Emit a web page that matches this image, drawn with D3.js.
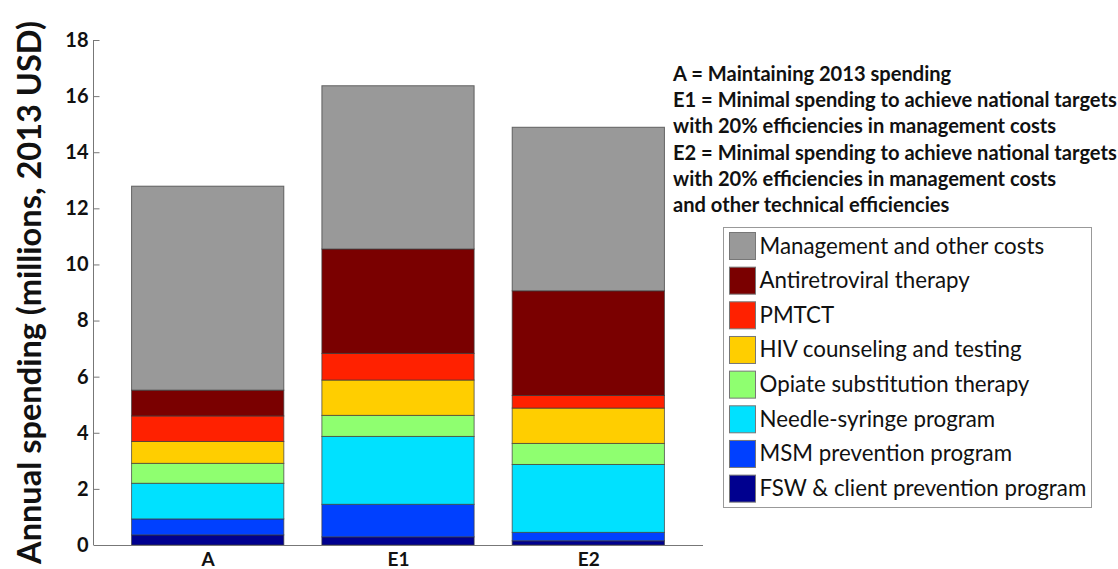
<!DOCTYPE html>
<html>
<head>
<meta charset="utf-8">
<script src="https://cdn.jsdelivr.net/npm/d3@7"></script>
<style>
  html, body { margin: 0; padding: 0; background: #fff; }
  svg { display: block; }
  text { font-family: Lato, "Open Sans", sans-serif; fill: #111; }
</style>
</head>
<body>
<svg id="chart" width="1118" height="569"></svg>
<script>
// ---- data (stacked bottom to top) ----
const categories = ["A", "E1", "E2"];
const seriesNames = [
  "FSW & client prevention program",
  "MSM prevention program",
  "Needle-syringe program",
  "Opiate substitution therapy",
  "HIV counseling and testing",
  "PMTCT",
  "Antiretroviral therapy",
  "Management and other costs"
];
const seriesColors = ["#00008f", "#0040ff", "#00e1ff", "#8fff70", "#ffce00", "#ff2100", "#7a0000", "#999999"];
const fsw   = [0.36, 0.29, 0.15];
const msm   = [0.57, 1.16, 0.30];
const nsp   = [1.27, 2.42, 2.42];
const ost   = [0.71, 0.75, 0.75];
const hct   = [0.78, 1.26, 1.26];
const pmtct = [0.91, 0.95, 0.45];
const art   = [0.92, 3.72, 3.73];
const mgmt  = [7.27, 5.82, 5.83];
const yTicks = [0, 2, 4, 6, 8, 10, 12, 14, 16, 18];
const yTitle = "Annual spending (millions, 2013 USD)";
const noteLines = [
  "A = Maintaining 2013 spending",
  "E1 = Minimal spending to achieve national targets",
  "with 20% efficiencies in management costs",
  "E2 = Minimal spending to achieve national targets",
  "with 20% efficiencies in management costs",
  "and other technical efficiencies"
];

const seriesValues = [fsw, msm, nsp, ost, hct, pmtct, art, mgmt];
const rows = categories.map((c, i) => {
  const r = { cat: c };
  seriesNames.forEach((s, j) => r[s] = seriesValues[j][i]);
  return r;
});
const stacked = d3.stack().keys(seriesNames)(rows);

const svg = d3.select("#chart");

// ---- scales ----
const x = d3.scaleLinear().domain([0.4, 3.6]).range([93.5, 702.5]);
const y = d3.scaleLinear().domain([0, 18]).range([545, 40]);
const barW = x(1.8) - x(1.0);

// ---- bars ----
const g = svg.append("g");
g.selectAll("g.series").data(stacked).join("g")
  .attr("class", "series")
  .attr("fill", (d, i) => seriesColors[i])
  .selectAll("rect").data(d => d).join("rect")
  .attr("x", (d, i) => x(i + 1) - barW / 2)
  .attr("width", barW)
  .attr("y", d => y(d[1]))
  .attr("height", d => y(d[0]) - y(d[1]))
  .attr("stroke", "#3a3a3a")
  .attr("stroke-opacity", 0.7)
  .attr("stroke-width", 1);

// ---- axes ----
const yAxis = d3.axisLeft(y).tickValues(yTicks).tickSize(-6).tickPadding(10).tickFormat(d3.format("d"));
const ya = svg.append("g").attr("transform", "translate(93.5,0)").call(yAxis);
ya.select(".domain").attr("stroke", "#777").attr("d", `M0,${y(18)}V${y(0)}`);
ya.selectAll(".tick line").attr("stroke", "#777");
ya.selectAll(".tick text").attr("font-size", 20).attr("font-weight", "bold")
  .attr("font-family", "Lato, 'Open Sans', sans-serif").attr("fill", "#111").attr("x", -5);

const xAxis = d3.axisBottom(x).tickValues([1, 2, 3]).tickSize(0).tickPadding(8)
  .tickFormat(d => categories[d - 1]);
const xa = svg.append("g").attr("transform", `translate(0,${y(0)})`).call(xAxis);
xa.select(".domain").attr("stroke", "#777");
xa.selectAll(".tick text").attr("font-size", 19).attr("font-weight", "bold")
  .attr("font-family", "Lato, 'Open Sans', sans-serif").attr("fill", "#111");

// ---- y title (fit to length) ----
const yt = svg.append("text")
  .attr("transform", `translate(41,${(y(0) + y(18)) / 2}) rotate(-90)`)
  .attr("text-anchor", "middle")
  .attr("font-weight", "bold")
  .attr("font-size", 30)
  .text(yTitle);
{
  const L = yt.node().getComputedTextLength();
  yt.attr("font-size", 30 * 543 / L);
}

// ---- notes ----
const notes = svg.append("g");
const noteTexts = notes.selectAll("text").data(noteLines).join("text")
  .attr("x", 673)
  .attr("y", (d, i) => 81 + i * 26.2)
  .attr("font-weight", "bold")
  .attr("font-size", 19)
  .text(d => d);
{
  const L = d3.max(noteTexts.nodes(), n => n.getComputedTextLength());
  noteTexts.attr("font-size", 19 * 444 / L);
}

// ---- legend ----
const legendOrder = seriesNames.map((s, i) => i).reverse();
const lg = svg.append("g");
lg.append("rect").attr("x", 723.5).attr("y", 227.5).attr("width", 368).attr("height", 280)
  .attr("fill", "#fff").attr("stroke", "#999").attr("stroke-width", 1);
const items = lg.selectAll("g.item").data(legendOrder).join("g")
  .attr("class", "item")
  .attr("transform", (d, i) => `translate(729.5,${232.5 + i * 34.66})`);
items.append("rect").attr("width", 26).attr("height", 27)
  .attr("fill", d => seriesColors[d]).attr("stroke", "#777").attr("stroke-width", 1);
const legTexts = items.append("text").attr("x", 30).attr("y", 21)
  .attr("font-size", 20).text(d => seriesNames[d]);
{
  const L = d3.max(legTexts.nodes(), n => n.getComputedTextLength());
  legTexts.attr("font-size", 20 * 327 / L);
}
</script>
</body>
</html>
